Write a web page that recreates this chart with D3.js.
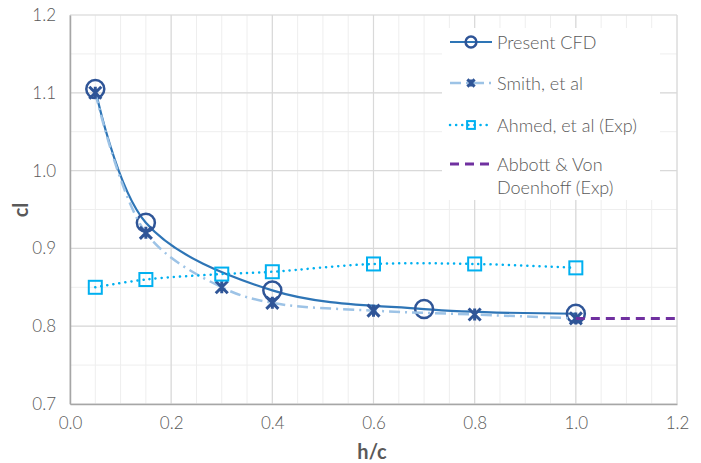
<!DOCTYPE html>
<html>
<head>
<meta charset="utf-8">
<script src="https://cdn.jsdelivr.net/npm/d3@7"></script>
<style>
  body { margin: 0; background: #fff; }
  text { font-family: Lato, "DejaVu Sans", sans-serif; }
</style>
</head>
<body>
<script>
// series data
var presentX = [0.05, 0.15, 0.4, 0.7, 1.0];
var presentY = [1.105, 0.933, 0.846, 0.822, 0.816];
var smithX = [0.05, 0.15, 0.3, 0.4, 0.6, 0.8, 1.0];
var smithY = [1.10, 0.92, 0.85, 0.83, 0.82, 0.815, 0.81];
var ahmedX = [0.05, 0.15, 0.3, 0.4, 0.6, 0.8, 1.0];
var ahmedY = [0.85, 0.86, 0.867, 0.87, 0.88, 0.88, 0.875];
var abbottX = [1.0, 1.2];
var abbottY = [0.81, 0.81];
var xTicks = [0, 0.2, 0.4, 0.6, 0.8, 1.0, 1.2];
var yTicks = [0.7, 0.8, 0.9, 1.0, 1.1, 1.2];
var legendNames = ["Present CFD", "Smith, et al", "Ahmed, et al (Exp)", "Abbott & Von Doenhoff (Exp)"];

const width = 701, height = 463;
var svg = d3.select("body").append("svg")
    .attr("width", width)
    .attr("height", height);

var x = d3.scaleLinear().domain([0, 1.2]).range([70, 677]);
var y = d3.scaleLinear().domain([0.7, 1.2]).range([404, 15]);

// minor grid
var minorX = d3.range(0, 1.2001, 0.05);
var minorY = d3.range(0.7, 1.2001, 0.05);
svg.append("g").selectAll("line").data(minorX).enter().append("line")
    .attr("x1", d => x(d)).attr("x2", d => x(d))
    .attr("y1", y(0.7)).attr("y2", y(1.2))
    .attr("stroke", "#eeeeee").attr("stroke-width", 1);
svg.append("g").selectAll("line").data(minorY).enter().append("line")
    .attr("x1", x(0)).attr("x2", x(1.2))
    .attr("y1", d => y(d)).attr("y2", d => y(d))
    .attr("stroke", "#eeeeee").attr("stroke-width", 1);

// major grid
svg.append("g").selectAll("line").data(xTicks).enter().append("line")
    .attr("x1", d => x(d)).attr("x2", d => x(d))
    .attr("y1", y(0.7)).attr("y2", y(1.2))
    .attr("stroke", "#d9d9d9").attr("stroke-width", 1.2);
svg.append("g").selectAll("line").data(yTicks).enter().append("line")
    .attr("x1", x(0)).attr("x2", x(1.2))
    .attr("y1", d => y(d)).attr("y2", d => y(d))
    .attr("stroke", "#d9d9d9").attr("stroke-width", 1.2);

// axes
var xAxis = svg.append("g").attr("transform", "translate(0," + y(0.7) + ")")
    .call(d3.axisBottom(x).tickValues(xTicks).tickFormat(d3.format(".1f")).tickSize(0).tickPadding(13));
var yAxis = svg.append("g").attr("transform", "translate(" + x(0) + ",0)")
    .call(d3.axisLeft(y).tickValues(yTicks).tickFormat(d3.format(".1f")).tickSize(0).tickPadding(14));
[xAxis, yAxis].forEach(function (a) {
    a.select(".domain").attr("stroke", "#a6a6a6").attr("stroke-width", 1.5);
    a.selectAll("text").attr("fill", "#595959").attr("font-size", 17).attr("font-weight", 300)
        .style("font-family", "Lato, sans-serif");
});

svg.append("text").attr("x", 372).attr("y", 459).attr("text-anchor", "middle")
    .attr("font-size", 20).attr("font-weight", "bold").attr("fill", "#595959").text("h/c");
svg.append("text").attr("transform", "translate(28,210) rotate(-90)").attr("text-anchor", "middle")
    .attr("font-size", 20).attr("font-weight", "bold").attr("fill", "#595959").text("cl");

function pts(xs, ys) { return xs.map((d, i) => [d, ys[i]]); }
var line = d3.line().x(d => x(d[0])).y(d => y(d[1])).curve(d3.curveCatmullRom.alpha(0.5));

var series = [
    { name: legendNames[0], data: pts(presentX, presentY), color: "#2e75b6", w: 2.2, dash: null, marker: "circle" },
    { name: legendNames[1], data: pts(smithX, smithY), color: "#9dc3e6", w: 2.5, dash: "11 5 2 5", marker: "star" },
    { name: legendNames[2], data: pts(ahmedX, ahmedY), color: "#00b0f0", w: 2.5, dash: "0.1 6", marker: "square" },
    { name: legendNames[3], data: pts(abbottX, abbottY), color: "#7030a0", w: 3, dash: "9 6", marker: null }
];

// k scales the marker (legend uses smaller ones)
function drawMarker(g, type, cx, cy, k) {
    if (type == "circle") {
        g.append("circle").attr("cx", cx).attr("cy", cy).attr("r", 9 * k)
            .attr("fill", "none").attr("stroke", "#2f5597").attr("stroke-width", 2.5);
    } else if (type == "star") {
        var s = 6 * k;
        g.append("path")
            .attr("d", "M" + (cx - s) + "," + (cy - s) + "L" + (cx + s) + "," + (cy + s) +
                "M" + (cx + s) + "," + (cy - s) + "L" + (cx - s) + "," + (cy + s) +
                "M" + cx + "," + (cy - s) + "L" + cx + "," + (cy + s))
            .attr("stroke", "#2f5597").attr("stroke-width", 3).attr("fill", "none");
    } else if (type == "square") {
        var h = 6.5 * k;
        g.append("rect").attr("x", cx - h).attr("y", cy - h).attr("width", 2 * h).attr("height", 2 * h)
            .attr("fill", "none").attr("stroke", "#00b0f0").attr("stroke-width", 2);
    }
}

series.forEach(function (s) {
    var g = svg.append("g");
    g.append("path").datum(s.data).attr("d", line)
        .attr("fill", "none").attr("stroke", s.color).attr("stroke-width", s.w)
        .attr("stroke-dasharray", s.dash).attr("stroke-linecap", s.dash == "0.1 6" ? "round" : "butt");
    if (s.marker) s.data.forEach(d => drawMarker(g, s.marker, x(d[0]), y(d[1]), 1));
});

// legend
var lg = svg.append("g");
lg.append("rect").attr("x", 442).attr("y", 28).attr("width", 218).attr("height", 172).attr("fill", "#fff");
var legendY = [42, 83, 125, 164];
series.forEach(function (s, i) {
    var ly = legendY[i];
    lg.append("line").attr("x1", 450).attr("x2", 492).attr("y1", ly).attr("y2", ly)
        .attr("stroke", s.color).attr("stroke-width", s.w)
        .attr("stroke-dasharray", s.dash).attr("stroke-linecap", s.dash == "0.1 6" ? "round" : "butt");
    if (s.marker) drawMarker(lg, s.marker, 471, ly, 0.6);
    var t = lg.append("text").attr("x", 497).attr("y", ly + 6.5).attr("font-size", 18)
        .attr("fill", "#595959").attr("font-weight", 300);
    if (i == 3) {
        t.append("tspan").attr("x", 497).text("Abbott & Von");
        t.append("tspan").attr("x", 497).attr("dy", 23).text("Doenhoff (Exp)");
    } else {
        t.text(s.name);
    }
});
</script>
</body>
</html>
